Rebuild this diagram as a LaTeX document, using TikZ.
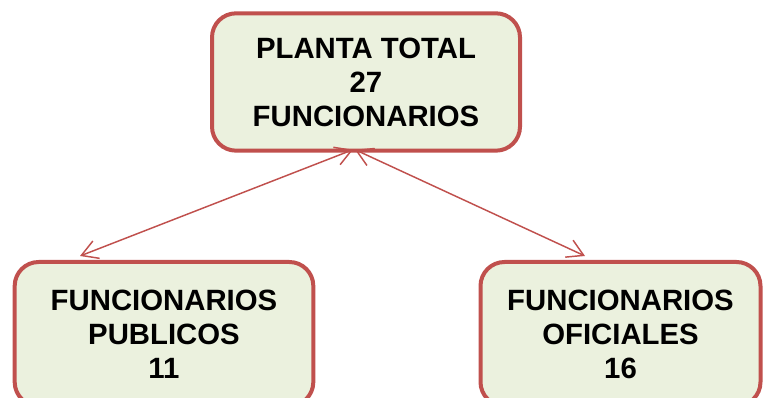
\documentclass[tikz,border=0pt]{standalone}
\usepackage{fontspec}
\setmainfont{Liberation Sans}
\usetikzlibrary{arrows.meta,calc}
\definecolor{rojocaja}{HTML}{C0504D}
\definecolor{verdecaja}{HTML}{EBF1DE}
\begin{document}
\begin{tikzpicture}[x=0.75pt, y=-0.75pt,
    caja/.style={draw=rojocaja, line width=3pt, fill=verdecaja, rounded corners=18pt,
        align=center, inner sep=0pt, font=\bfseries\fontsize{22}{25.5}\selectfont},
    flecha/.style={rojocaja, line width=1.1pt,
        {Straight Barb[length=12pt,width=14pt]}-{Straight Barb[length=12pt,width=14pt]}}]
    \useasboundingbox (0,0) rectangle (764,398);

    \node[caja, minimum width=231pt, minimum height=103pt] (total) at (366,82) {PLANTA TOTAL\\27\\FUNCIONARIOS};
    \node[caja, minimum width=224pt, minimum height=108pt] (publicos) at (164,334) {FUNCIONARIOS\\PUBLICOS\\11};
    \node[caja, minimum width=210pt, minimum height=108pt] (oficiales) at (620.5,334) {FUNCIONARIOS\\OFICIALES\\16};

    % flechas entre cajas
    \draw[flecha] ($(total.south)+(-13,-3)$) -- ($(publicos.north)+(-84,-4)$);
    \draw[flecha] ($(total.south)+(-11,-3)$) -- ($(oficiales.north)+(-35.5,-4)$);
\end{tikzpicture}
\end{document}
